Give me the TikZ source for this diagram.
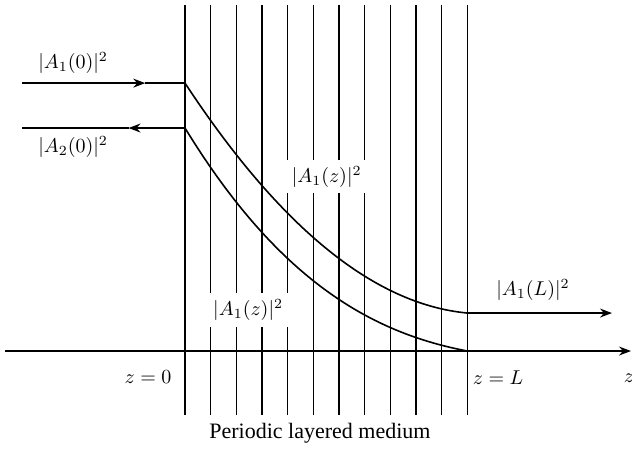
\documentclass[tikz,border=0pt]{standalone}
\usepackage{fontspec}
\setmainfont{Liberation Serif}
\usetikzlibrary{arrows.meta}
\begin{document}
\begin{tikzpicture}[x=12.83pt,y=12.83pt,
		layer/.style={line width=0.55pt},
		beam/.style={thick},
		tip/.style={-{Stealth[length=6pt,width=4.5pt,inset=2pt]}},
		lbl/.style={fill=white,inner sep=3pt}]
		\useasboundingbox (-7.21,-3.78) rectangle (17.42,13.68);
		% layers of the medium
		\foreach \i in {0,...,11}
			\draw [layer] (\i,-2.49) -- (\i,13.48);
		% z axis
		\coordinate (zstart) at (-7.0,0);
		\coordinate (zend) at (17.38,0);
		\draw [layer, tip] (zstart) -- (zend);
		% incident and reflected beams
		\coordinate (inL) at (-6.35,10.44);
		\coordinate (inM) at (-1.55,10.44);
		\coordinate (in0) at (0,10.44);
		\coordinate (reL) at (-6.35,8.69);
		\coordinate (reM) at (-2.2,8.69);
		\coordinate (re0) at (0,8.69);
		\draw [beam, tip] (inL) -- (inM);
		\draw [beam] (inM) -- (in0);
		\draw [beam, tip] (re0) -- (reM);
		\draw [beam] (reM) -- (reL);
		% intensities inside the medium
		\coordinate (outL) at (11,1.48);
		\coordinate (reLL) at (11,0);
		\coordinate (outR) at (16.64,1.48);
		\draw [beam] (in0) .. controls (3.67,4.86) and (7.33,1.83) .. (outL);
		\draw [beam] (re0) .. controls (3.67,2.69) and (7.33,0.70) .. (reLL);
		\draw [beam, tip] (outL) -- (outR);
		% labels
		\node (a1in) at (-4.36,11.22) {$|A_1(0)|^2$};
		\node (a2in) at (-4.36,7.95) {$|A_2(0)|^2$};
		\node [lbl] (a1up) at (5.52,6.79) {$|A_1(z)|^2$};
		\node [lbl] (a1lo) at (2.46,1.6) {$|A_1(z)|^2$};
		\node (a1out) at (13.56,2.38) {$|A_1(L)|^2$};
		\node (z0) at (-1.44,-1.01) {$z=0$};
		\node (zL) at (12.2,-1.05) {$z=L$};
		\node (zax) at (17.3,-1.05) {$z$};
		\node [font=\fontsize{11}{13}\selectfont] (medium) at (5.26,-3.2) {Periodic layered medium};
\end{tikzpicture}
\end{document}
